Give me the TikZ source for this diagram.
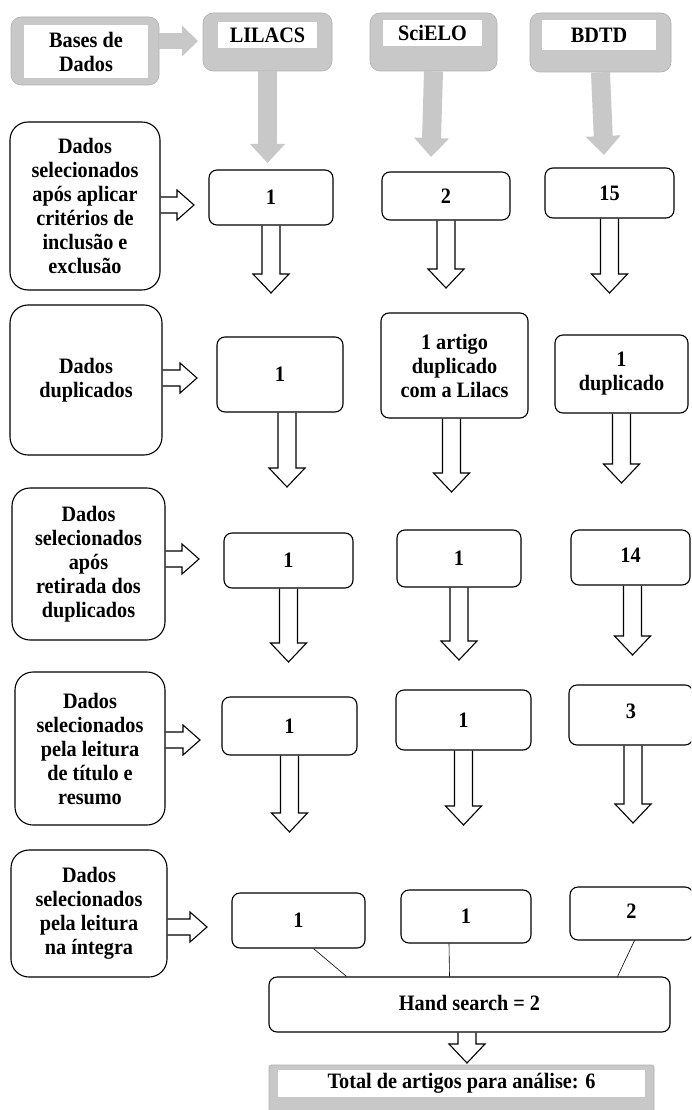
\documentclass[tikz,border=0pt]{standalone}
\usepackage{fontspec}
\setmainfont{Liberation Serif}[FakeStretch=0.92]
\usetikzlibrary{arrows.meta,calc}
\definecolor{cinza}{RGB}{200,200,200}
\tikzset{
	lado/.style={draw, rounded corners=18pt, line width=1.1pt, align=center, inner sep=0pt},
	caixa/.style={draw, rounded corners=8pt, line width=1.1pt, align=center, inner sep=0pt},
	base/.style={fill=cinza, draw=cinza!88!black, line width=0.6pt, rounded corners=10pt, inner sep=0pt},
	rotulo/.style={fill=white, inner sep=0pt, align=center},
	seta cinza/.style={draw=cinza, line width=19pt, -{Triangle[width=34pt,length=19pt]}},
	seta baixo/.style={line width=1.1pt, to path={let \p1=(\tikztostart), \p2=(\tikztotarget) in
		(\x1-9pt,\y1) -- (\x1-9pt,\y2+19pt) -- (\x1-18pt,\y2+19pt) -- (\x1,\y2)
		-- (\x1+18pt,\y2+19pt) -- (\x1+9pt,\y2+19pt) -- (\x1+9pt,\y1)}},
	seta lado/.style={line width=1.1pt, to path={let \p1=(\tikztostart), \p2=(\tikztotarget) in
		(\x1,\y1+8pt) -- (\x2-17pt,\y1+8pt) -- (\x2-17pt,\y1+15pt) -- (\x2,\y1)
		-- (\x2-17pt,\y1-15pt) -- (\x2-17pt,\y1-8pt) -- (\x1,\y1-8pt)}},
}
\begin{document}
\begin{tikzpicture}[x=1pt, y=-1pt, font=\bfseries\fontsize{22}{24}\selectfont]
	\useasboundingbox (0,0) rectangle (691,1110);
	\clip (0,0) rectangle (691,1110);
	
	% bases de dados
	\node[base, minimum width=148pt, minimum height=68pt] (Db) at (85,51) {};
	\node[rotulo, minimum width=124pt, minimum height=53pt] (Dbt) at (86,51.5) {Bases de\\Dados};
	\node[base, minimum width=129pt, minimum height=58pt] (Li) at (267.5,42) {};
	\node[rotulo, minimum width=99pt, minimum height=26pt] (Lit) at (267.5,35) {LILACS};
	\node[base, minimum width=127pt, minimum height=58pt] (Sc) at (433.5,42) {};
	\node[rotulo, minimum width=99pt, minimum height=26pt] (Sct) at (432.5,33) {SciELO};
	\node[base, minimum width=141pt, minimum height=59pt] (Bd) at (600.5,42.5) {};
	\node[rotulo, minimum width=114pt, minimum height=30pt] (Bdt) at (599,35) {BDTD};
	
	\coordinate (g0) at (198,41);
	\coordinate (g1) at (267.5,163);
	\coordinate (g2) at (431,157);
	\coordinate (g3) at (604,155);
	\draw[seta cinza, line width=16pt, -{Triangle[width=30pt,length=16pt]}] (Db.east |- g0) -- (g0);
	\draw[seta cinza] (Li.south) -- (g1);
	\draw[seta cinza] (Sc.south) -- (g2);
	\draw[seta cinza] (Bd.south) -- (g3);
	
	% etapas
	\node[lado, minimum width=150pt, minimum height=168pt] (E1) at (85,206) {Dados\\selecionados\\após aplicar\\critérios de\\inclusão e\\exclusão};
	\node[lado, minimum width=152pt, minimum height=150pt] (E2) at (86,380) {Dados\\duplicados};
	\node[lado, minimum width=153pt, minimum height=152pt] (E3) at (88.5,564) {Dados\\selecionados\\após\\retirada dos\\duplicados};
	\node[lado, minimum width=150pt, minimum height=153pt] (E4) at (90,748.5) {Dados\\selecionados\\pela leitura\\de título e\\resumo};
	\node[lado, minimum width=156pt, minimum height=127pt] (E5) at (89,913.5) {Dados\\selecionados\\pela leitura\\na íntegra};
	
	\node[caixa, minimum width=124pt, minimum height=55pt] (A1) at (271,197.5) {1};
	\node[caixa, minimum width=128pt, minimum height=48pt] (B1) at (446,196) {2};
	\node[caixa, minimum width=129pt, minimum height=50pt] (C1) at (609.5,193) {15};
	
	\node[caixa, minimum width=126pt, minimum height=75pt] (A2) at (280,374.5) {1};
	\node[caixa, minimum width=147pt, minimum height=105pt] (B2) at (454.5,365.5) {1 artigo\\duplicado\\com a Lilacs};
	\node[caixa, minimum width=133pt, minimum height=78pt] (C2) at (621.5,374) {1\\duplicado};
	
	\node[caixa, minimum width=129pt, minimum height=55pt] (A3) at (288.5,560.5) {1};
	\node[caixa, minimum width=124pt, minimum height=57pt] (B3) at (459,558.5) {1};
	\node[caixa, minimum width=119pt, minimum height=55pt] (C3) at (630.5,557.5) {\raisebox{5pt}{14}};
	
	\node[caixa, minimum width=135pt, minimum height=58pt] (A4) at (289.5,726) {1};
	\node[caixa, minimum width=135pt, minimum height=60pt] (B4) at (463.5,720) {1};
	\node[caixa, minimum width=124pt, minimum height=60pt] (C4) at (631,715) {\raisebox{7pt}{3}};
	
	\node[caixa, minimum width=133pt, minimum height=55pt] (A5) at (298.5,920.5) {1};
	\node[caixa, minimum width=130pt, minimum height=53pt] (B5) at (466,916.5) {1};
	\node[caixa, minimum width=123pt, minimum height=53pt] (C5) at (631.5,913.5) {\raisebox{4pt}{2}};
	
	\node[caixa, minimum width=401pt, minimum height=55pt] (H) at (469.5,1004.5) {\raisebox{4pt}{Hand search = 2}};
	\node[base, rounded corners=2pt, minimum width=385pt, minimum height=53pt] (T) at (461.5,1091.5) {};
	\node[rotulo, minimum width=367pt, minimum height=27pt] (Tt) at (461.5,1083.5) {Total de artigos para análise: 6};
	
	% setas vazadas
	\coordinate (e1) at (194,205);
	\coordinate (e2) at (197,378);
	\coordinate (e3) at (199,559);
	\coordinate (e4) at (200,740);
	\coordinate (e5) at (207,927);
	\draw[seta lado] (E1.east |- e1) to (e1);
	\draw[seta lado] (E2.east |- e2) to (e2);
	\draw[seta lado] (E3.east |- e3) to (e3);
	\draw[seta lado] (E4.east |- e4) to (e4);
	\draw[seta lado] (E5.east |- e5) to (e5);
	
	\coordinate (a1) at (272,293);
	\coordinate (b1) at (445,288);
	\coordinate (c1) at (610,293);
	\coordinate (a2) at (287,487);
	\coordinate (b2) at (451,492);
	\coordinate (c2) at (622,483);
	\coordinate (a3) at (287,662);
	\coordinate (b3) at (458,660);
	\coordinate (c3) at (630,655);
	\coordinate (a4) at (289,832);
	\coordinate (b4) at (465,825);
	\coordinate (c4) at (633,823);
	\coordinate (h1) at (467,1063);
	\draw[seta baixo] (A1.south) to (a1);
	\draw[seta baixo] (B1.south) to (b1);
	\draw[seta baixo] (C1.south) to (c1);
	\draw[seta baixo] ([xshift=7pt]A2.south) to (a2);
	\draw[seta baixo] ([xshift=-3pt]B2.south) to (b2);
	\draw[seta baixo] (C2.south) to (c2);
	\draw[seta baixo] (A3.south) to (a3);
	\draw[seta baixo] (B3.south) to (b3);
	\draw[seta baixo] ([xshift=2pt]C3.south) to (c3);
	\draw[seta baixo] (A4.south) to (a4);
	\draw[seta baixo] (B4.south) to (b4);
	\draw[seta baixo] ([xshift=2pt]C4.south) to (c4);
	\draw[seta baixo] ([xshift=-2.5pt]H.south) to (h1);
	
	% ligacoes com o hand search
	\draw[line width=0.6pt] ([xshift=15pt]A5.south) -- ([xshift=-123pt]H.north);
	\draw[line width=0.6pt] ([xshift=-17pt]B5.south) -- ([xshift=-20pt]H.north);
	\draw[line width=0.6pt] ([xshift=3pt]C5.south) -- ([xshift=148pt]H.north);
\end{tikzpicture}
\end{document}
